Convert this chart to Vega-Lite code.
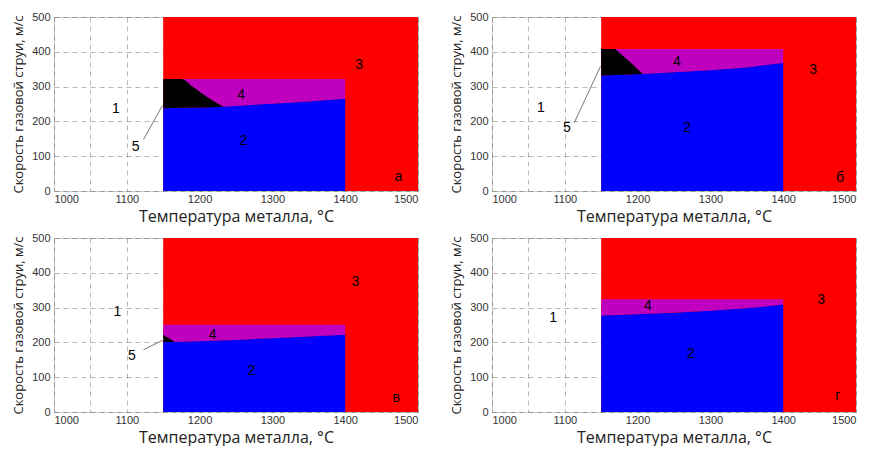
{
  "$schema": "https://vega.github.io/schema/vega-lite/v6.json",
  "padding": {"left": 12, "top": 10, "right": 4, "bottom": 0},
  "background": "white",
  "config": {
    "font": "Liberation Sans",
    "view": {"stroke": "#d0d0d0", "strokeWidth": 1},
    "axis": {
      "grid": true, "gridColor": "#000000", "gridOpacity": 0.28, "gridDash": [5, 4], "gridWidth": 1,
      "ticks": false, "domain": false, "zindex": 1,
      "labelFont": "Liberation Sans", "labelFontSize": 11, "labelColor": "#333333",
      "titleFont": "Open Sans", "titleFontWeight": "normal", "titleColor": "#222222"
    },
    "axisX": {"titleFontSize": 16, "titlePadding": 4, "labelPadding": 2,
      "values": [1000, 1050, 1100, 1150, 1200, 1250, 1300, 1350, 1400, 1450, 1500],
      "labelExpr": "datum.value % 100 === 0 ? datum.label : ''", "format": "d"},
    "axisY": {"titleFontSize": 13, "titlePadding": 6, "labelPadding": 4,
      "values": [0, 50, 100, 150, 200, 250, 300, 350, 400, 450, 500],
      "labelExpr": "datum.value % 100 === 0 ? datum.label : ''"}
  },
  "datasets": {
    "all": [
    {"panel": "a", "kind": "red", "x": 1150, "x2": 1500, "y": 0, "y2": 500},
    {"panel": "a", "kind": "band", "x": 1150, "top": 322, "blue": 238},
    {"panel": "a", "kind": "band", "x": 1200, "top": 322, "blue": 240},
    {"panel": "a", "kind": "band", "x": 1233, "top": 322, "blue": 242},
    {"panel": "a", "kind": "band", "x": 1300, "top": 322, "blue": 251},
    {"panel": "a", "kind": "band", "x": 1350, "top": 322, "blue": 257},
    {"panel": "a", "kind": "band", "x": 1400, "top": 322, "blue": 265},
    {"panel": "a", "kind": "black", "x": 1150, "top": 322, "blue": 238},
    {"panel": "a", "kind": "black", "x": 1175, "top": 322, "blue": 239},
    {"panel": "a", "kind": "black", "x": 1190, "top": 300, "blue": 240},
    {"panel": "a", "kind": "black", "x": 1200, "top": 285, "blue": 240},
    {"panel": "a", "kind": "black", "x": 1215, "top": 264, "blue": 241},
    {"panel": "a", "kind": "black", "x": 1233, "top": 242, "blue": 242},
    {"panel": "a", "kind": "lead", "x": 1123, "y": 148, "x2": 1149, "y2": 246},
    {"panel": "a", "kind": "lab", "x": 1085, "y": 236, "label": "1"},
    {"panel": "a", "kind": "lab", "x": 1260, "y": 143, "label": "2"},
    {"panel": "a", "kind": "lab", "x": 1419, "y": 361, "label": "3"},
    {"panel": "a", "kind": "lab", "x": 1257, "y": 275, "label": "4"},
    {"panel": "a", "kind": "lab", "x": 1112, "y": 126, "label": "5"},
    {"panel": "a", "kind": "lab", "x": 1473, "y": 40, "label": "а"},

    {"panel": "b", "kind": "red", "x": 1150, "x2": 1500, "y": 0, "y2": 500},
    {"panel": "b", "kind": "band", "x": 1150, "top": 408, "blue": 332},
    {"panel": "b", "kind": "band", "x": 1207, "top": 408, "blue": 336},
    {"panel": "b", "kind": "band", "x": 1250, "top": 408, "blue": 341},
    {"panel": "b", "kind": "band", "x": 1300, "top": 408, "blue": 347},
    {"panel": "b", "kind": "band", "x": 1350, "top": 408, "blue": 355},
    {"panel": "b", "kind": "band", "x": 1400, "top": 408, "blue": 368},
    {"panel": "b", "kind": "black", "x": 1150, "top": 408, "blue": 332},
    {"panel": "b", "kind": "black", "x": 1169, "top": 408, "blue": 333},
    {"panel": "b", "kind": "black", "x": 1190, "top": 370, "blue": 335},
    {"panel": "b", "kind": "black", "x": 1207, "top": 336, "blue": 336},
    {"panel": "b", "kind": "lead", "x": 1113, "y": 196, "x2": 1149, "y2": 358},
    {"panel": "b", "kind": "lab", "x": 1067, "y": 239, "label": "1"},
    {"panel": "b", "kind": "lab", "x": 1268, "y": 182, "label": "2"},
    {"panel": "b", "kind": "lab", "x": 1441, "y": 349, "label": "3"},
    {"panel": "b", "kind": "lab", "x": 1254, "y": 371, "label": "4"},
    {"panel": "b", "kind": "lab", "x": 1103, "y": 182, "label": "5"},
    {"panel": "b", "kind": "lab", "x": 1478, "y": 38, "label": "б"},

    {"panel": "c", "kind": "red", "x": 1150, "x2": 1500, "y": 0, "y2": 500},
    {"panel": "c", "kind": "band", "x": 1150, "top": 251, "blue": 201},
    {"panel": "c", "kind": "band", "x": 1166, "top": 251, "blue": 201},
    {"panel": "c", "kind": "band", "x": 1250, "top": 251, "blue": 207},
    {"panel": "c", "kind": "band", "x": 1300, "top": 251, "blue": 212},
    {"panel": "c", "kind": "band", "x": 1350, "top": 251, "blue": 217},
    {"panel": "c", "kind": "band", "x": 1400, "top": 251, "blue": 222},
    {"panel": "c", "kind": "black", "x": 1150, "top": 222, "blue": 201},
    {"panel": "c", "kind": "black", "x": 1166, "top": 201, "blue": 201},
    {"panel": "c", "kind": "lead", "x": 1123, "y": 179, "x2": 1151, "y2": 208},
    {"panel": "c", "kind": "lab", "x": 1087, "y": 286, "label": "1"},
    {"panel": "c", "kind": "lab", "x": 1271, "y": 119, "label": "2"},
    {"panel": "c", "kind": "lab", "x": 1414, "y": 375, "label": "3"},
    {"panel": "c", "kind": "lab", "x": 1218, "y": 220, "label": "4"},
    {"panel": "c", "kind": "lab", "x": 1107, "y": 160, "label": "5"},
    {"panel": "c", "kind": "lab", "x": 1470, "y": 39, "label": "в"},

    {"panel": "d", "kind": "red", "x": 1150, "x2": 1500, "y": 0, "y2": 500},
    {"panel": "d", "kind": "band", "x": 1150, "top": 324, "blue": 277},
    {"panel": "d", "kind": "band", "x": 1200, "top": 324, "blue": 281},
    {"panel": "d", "kind": "band", "x": 1300, "top": 324, "blue": 291},
    {"panel": "d", "kind": "band", "x": 1350, "top": 324, "blue": 298},
    {"panel": "d", "kind": "band", "x": 1400, "top": 324, "blue": 309},
    {"panel": "d", "kind": "lab", "x": 1084, "y": 270, "label": "1"},
    {"panel": "d", "kind": "lab", "x": 1273, "y": 166, "label": "2"},
    {"panel": "d", "kind": "lab", "x": 1452, "y": 322, "label": "3"},
    {"panel": "d", "kind": "lab", "x": 1214, "y": 304, "label": "4"},
    {"panel": "d", "kind": "lab", "x": 1475, "y": 45, "label": "г"}
    ]
  },
  "data": {"name": "all"},
  "columns": 2,
  "spacing": {"row": 6, "column": 31},
  "concat": [
    {"width": 364, "height": 174, "transform": [{"filter": "datum.panel === 'a'"}],
     "encoding": {"x": {"type": "quantitative", "title": "Температура металла, °C", "scale": {"domain": [1000, 1500], "nice": false, "zero": false}}, "y": {"type": "quantitative", "title": "Скорость газовой струи, м/с", "scale": {"domain": [0, 500], "nice": false}}},
     "layer": [
      {"transform": [{"filter": "datum.kind === 'red'"}], "mark": {"type": "rect", "color": "#FF0000"},
       "encoding": {"x": {"field": "x", "type": "quantitative"}, "x2": {"field": "x2"}, "y": {"field": "y", "type": "quantitative"}, "y2": {"field": "y2"}}},
      {"transform": [{"filter": "datum.kind === 'band'"}], "mark": {"type": "area", "color": "#BF00BF"},
       "encoding": {"x": {"field": "x", "type": "quantitative"}, "y": {"field": "top", "type": "quantitative"}, "y2": {"field": "blue"}}},
      {"transform": [{"filter": "datum.kind === 'band'"}], "mark": {"type": "area", "color": "#0000FF"},
       "encoding": {"x": {"field": "x", "type": "quantitative"}, "y": {"field": "blue", "type": "quantitative"}, "y2": {"datum": 0}}},
      {"transform": [{"filter": "datum.kind === 'black'"}], "mark": {"type": "area", "color": "#000000", "interpolate": "monotone"},
       "encoding": {"x": {"field": "x", "type": "quantitative"}, "y": {"field": "top", "type": "quantitative"}, "y2": {"field": "blue"}}},
      {"transform": [{"filter": "datum.kind === 'lead'"}], "mark": {"type": "rule", "color": "#777777", "strokeWidth": 1},
       "encoding": {"x": {"field": "x", "type": "quantitative"}, "x2": {"field": "x2"}, "y": {"field": "y", "type": "quantitative"}, "y2": {"field": "y2"}}},
      {"transform": [{"filter": "datum.kind === 'lab'"}], "mark": {"type": "text", "fontSize": 14, "color": "#000000"},
       "encoding": {"x": {"field": "x", "type": "quantitative"}, "y": {"field": "y", "type": "quantitative"}, "text": {"field": "label"}}}
     ]},
    {"width": 364, "height": 174, "transform": [{"filter": "datum.panel === 'b'"}],
     "encoding": {"x": {"type": "quantitative", "title": "Температура металла, °C", "scale": {"domain": [1000, 1500], "nice": false, "zero": false}}, "y": {"type": "quantitative", "title": "Скорость газовой струи, м/с", "scale": {"domain": [0, 500], "nice": false}}},
     "layer": [
      {"transform": [{"filter": "datum.kind === 'red'"}], "mark": {"type": "rect", "color": "#FF0000"},
       "encoding": {"x": {"field": "x", "type": "quantitative"}, "x2": {"field": "x2"}, "y": {"field": "y", "type": "quantitative"}, "y2": {"field": "y2"}}},
      {"transform": [{"filter": "datum.kind === 'band'"}], "mark": {"type": "area", "color": "#BF00BF"},
       "encoding": {"x": {"field": "x", "type": "quantitative"}, "y": {"field": "top", "type": "quantitative"}, "y2": {"field": "blue"}}},
      {"transform": [{"filter": "datum.kind === 'band'"}], "mark": {"type": "area", "color": "#0000FF"},
       "encoding": {"x": {"field": "x", "type": "quantitative"}, "y": {"field": "blue", "type": "quantitative"}, "y2": {"datum": 0}}},
      {"transform": [{"filter": "datum.kind === 'black'"}], "mark": {"type": "area", "color": "#000000"},
       "encoding": {"x": {"field": "x", "type": "quantitative"}, "y": {"field": "top", "type": "quantitative"}, "y2": {"field": "blue"}}},
      {"transform": [{"filter": "datum.kind === 'lead'"}], "mark": {"type": "rule", "color": "#777777", "strokeWidth": 1},
       "encoding": {"x": {"field": "x", "type": "quantitative"}, "x2": {"field": "x2"}, "y": {"field": "y", "type": "quantitative"}, "y2": {"field": "y2"}}},
      {"transform": [{"filter": "datum.kind === 'lab'"}], "mark": {"type": "text", "fontSize": 14, "color": "#000000"},
       "encoding": {"x": {"field": "x", "type": "quantitative"}, "y": {"field": "y", "type": "quantitative"}, "text": {"field": "label"}}}
     ]},
    {"width": 364, "height": 174, "transform": [{"filter": "datum.panel === 'c'"}],
     "encoding": {"x": {"type": "quantitative", "title": "Температура металла, °C", "scale": {"domain": [1000, 1500], "nice": false, "zero": false}}, "y": {"type": "quantitative", "title": "Скорость газовой струи, м/с", "scale": {"domain": [0, 500], "nice": false}}},
     "layer": [
      {"transform": [{"filter": "datum.kind === 'red'"}], "mark": {"type": "rect", "color": "#FF0000"},
       "encoding": {"x": {"field": "x", "type": "quantitative"}, "x2": {"field": "x2"}, "y": {"field": "y", "type": "quantitative"}, "y2": {"field": "y2"}}},
      {"transform": [{"filter": "datum.kind === 'band'"}], "mark": {"type": "area", "color": "#BF00BF"},
       "encoding": {"x": {"field": "x", "type": "quantitative"}, "y": {"field": "top", "type": "quantitative"}, "y2": {"field": "blue"}}},
      {"transform": [{"filter": "datum.kind === 'band'"}], "mark": {"type": "area", "color": "#0000FF"},
       "encoding": {"x": {"field": "x", "type": "quantitative"}, "y": {"field": "blue", "type": "quantitative"}, "y2": {"datum": 0}}},
      {"transform": [{"filter": "datum.kind === 'black'"}], "mark": {"type": "area", "color": "#000000"},
       "encoding": {"x": {"field": "x", "type": "quantitative"}, "y": {"field": "top", "type": "quantitative"}, "y2": {"field": "blue"}}},
      {"transform": [{"filter": "datum.kind === 'lead'"}], "mark": {"type": "rule", "color": "#777777", "strokeWidth": 1},
       "encoding": {"x": {"field": "x", "type": "quantitative"}, "x2": {"field": "x2"}, "y": {"field": "y", "type": "quantitative"}, "y2": {"field": "y2"}}},
      {"transform": [{"filter": "datum.kind === 'lab'"}], "mark": {"type": "text", "fontSize": 14, "color": "#000000"},
       "encoding": {"x": {"field": "x", "type": "quantitative"}, "y": {"field": "y", "type": "quantitative"}, "text": {"field": "label"}}}
     ]},
    {"width": 364, "height": 174, "transform": [{"filter": "datum.panel === 'd'"}],
     "encoding": {"x": {"type": "quantitative", "title": "Температура металла, °C", "scale": {"domain": [1000, 1500], "nice": false, "zero": false}}, "y": {"type": "quantitative", "title": "Скорость газовой струи, м/с", "scale": {"domain": [0, 500], "nice": false}}},
     "layer": [
      {"transform": [{"filter": "datum.kind === 'red'"}], "mark": {"type": "rect", "color": "#FF0000"},
       "encoding": {"x": {"field": "x", "type": "quantitative"}, "x2": {"field": "x2"}, "y": {"field": "y", "type": "quantitative"}, "y2": {"field": "y2"}}},
      {"transform": [{"filter": "datum.kind === 'band'"}], "mark": {"type": "area", "color": "#BF00BF"},
       "encoding": {"x": {"field": "x", "type": "quantitative"}, "y": {"field": "top", "type": "quantitative"}, "y2": {"field": "blue"}}},
      {"transform": [{"filter": "datum.kind === 'band'"}], "mark": {"type": "area", "color": "#0000FF", "interpolate": "monotone"},
       "encoding": {"x": {"field": "x", "type": "quantitative"}, "y": {"field": "blue", "type": "quantitative"}, "y2": {"datum": 0}}},
      {"transform": [{"filter": "datum.kind === 'lab'"}], "mark": {"type": "text", "fontSize": 14, "color": "#000000"},
       "encoding": {"x": {"field": "x", "type": "quantitative"}, "y": {"field": "y", "type": "quantitative"}, "text": {"field": "label"}}}
     ]}
  ]
}
